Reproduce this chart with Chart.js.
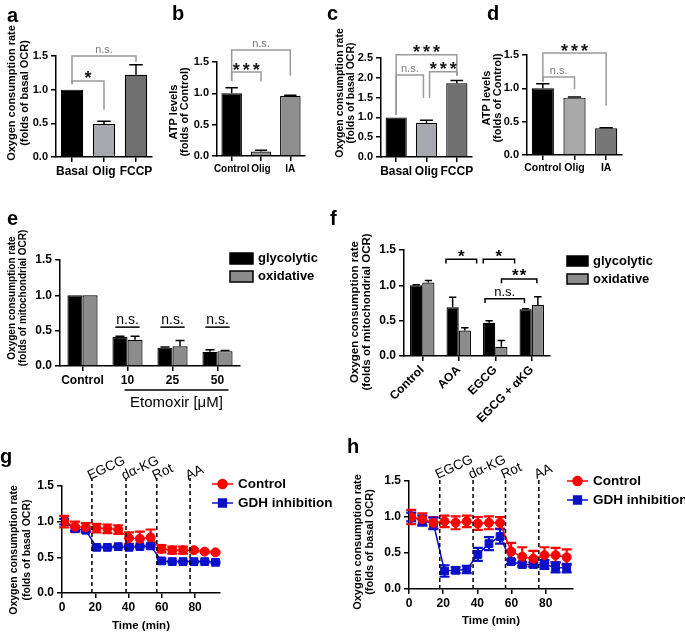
<!DOCTYPE html>
<html>
<head>
<meta charset="utf-8">
<script src="https://cdn.jsdelivr.net/npm/chart.js@4.4.0/dist/chart.umd.min.js"></script>
<style>
  body { margin: 0; background: #fff; width: 685px; height: 633px; overflow: hidden; position: relative; }
  canvas { position: absolute; }
</style>
</head>
<body>
<canvas id="ca" width="165" height="190" style="left:0;top:0"></canvas>
<canvas id="cb" width="165" height="190" style="left:165px;top:0"></canvas>
<canvas id="cc" width="170" height="190" style="left:325px;top:0"></canvas>
<canvas id="cd" width="205" height="190" style="left:480px;top:0"></canvas>
<canvas id="ce" width="335" height="210" style="left:0;top:200px"></canvas>
<canvas id="cf" width="360" height="230" style="left:325px;top:200px"></canvas>
<canvas id="cg" width="340" height="203" style="left:0;top:430px"></canvas>
<canvas id="ch" width="345" height="203" style="left:340px;top:430px"></canvas>
<script>
// ---- data ----
const aLabels = ["Basal", "Olig", "FCCP"];
const aValues = [1.0, 0.49, 1.22];
const aErrors = [0, 0.04, 0.15];

const bLabels = ["Control", "Olig", "IA"];
const bValues = [1.0, 0.07, 0.96];
const bErrors = [0.09, 0.02, 0.01];

const cLabels = ["Basal", "Olig", "FCCP"];
const cValues = [1.0, 0.86, 1.86];
const cErrors = [0, 0.07, 0.07];

const dLabels = ["Control", "Olig", "IA"];
const dValues = [1.0, 0.86, 0.40];
const dErrors = [0.07, 0.01, 0.01];

const eLabels = ["Control", "10", "25", "50"];
const eGlycolytic = [1.0, 0.41, 0.26, 0.20];
const eGlycolyticErr = [0, 0.01, 0.01, 0.03];
const eOxidative = [1.0, 0.37, 0.28, 0.21];
const eOxidativeErr = [0, 0.05, 0.08, 0.01];

const fLabels = ["Control", "AOA", "EGCG", "EGCG + αKG"];
const fGlycolytic = [1.0, 0.69, 0.47, 0.66];
const fGlycolyticErr = [0.01, 0.14, 0.03, 0.01];
const fOxidative = [1.04, 0.36, 0.13, 0.72];
const fOxidativeErr = [0.03, 0.04, 0.09, 0.12];

const timePoints = [1.3, 7.8, 14.3, 20.8, 27.3, 33.8, 40.3, 46.8, 53.3, 59.8, 66.3, 72.8, 79.3, 85.8, 92.3];
const injectionLabels = ["EGCG", "dα-KG", "Rot", "AA"];

const gControl = [1.00, 0.93, 0.92, 0.91, 0.90, 0.89, 0.77, 0.76, 0.78, 0.62, 0.60, 0.60, 0.60, 0.58, 0.57];
const gControlErr = [0.08, 0.07, 0.06, 0.06, 0.06, 0.06, 0.08, 0.10, 0.11, 0.05, 0.05, 0.05, 0.02, 0.01, 0.01];
const gGdh = [1.00, 0.90, 0.88, 0.64, 0.64, 0.65, 0.64, 0.65, 0.66, 0.45, 0.44, 0.44, 0.44, 0.44, 0.43];
const gGdhErr = [0.04, 0.03, 0.02, 0.02, 0.01, 0.01, 0.02, 0.01, 0.02, 0.03, 0.01, 0.01, 0.01, 0.01, 0.01];
const gInjections = [18, 38.5, 57, 77];

const hControl = [1.00, 0.97, 0.92, 0.94, 0.92, 0.94, 0.91, 0.92, 0.92, 0.52, 0.45, 0.42, 0.47, 0.47, 0.44];
const hControlErr = [0.10, 0.08, 0.08, 0.08, 0.09, 0.08, 0.09, 0.09, 0.08, 0.12, 0.13, 0.11, 0.11, 0.10, 0.11];
const hGdh = [1.00, 0.95, 0.91, 0.25, 0.26, 0.27, 0.48, 0.63, 0.73, 0.38, 0.34, 0.34, 0.34, 0.30, 0.29];
const hGdhErr = [0.06, 0.07, 0.08, 0.08, 0.04, 0.05, 0.09, 0.09, 0.10, 0.03, 0.03, 0.03, 0.06, 0.07, 0.06];
const hInjections = [18, 37.5, 56.5, 76];

const FONT = '"Liberation Sans", Arial, sans-serif';
Chart.defaults.font.family = FONT;
Chart.defaults.color = "#000";
Chart.defaults.animation = false;
Chart.defaults.responsive = false;
Chart.defaults.plugins.legend.display = false;
Chart.defaults.plugins.tooltip.enabled = false;

// error bars: bars get an upward whisker, line points get both
function drawErrors(chart) {
  const ctx = chart.ctx;
  const ys = chart.scales.y;
  chart.data.datasets.forEach((ds, di) => {
    if (!ds.errors) return;
    const meta = chart.getDatasetMeta(di);
    const isBar = meta.type === "bar";
    ctx.save();
    ctx.strokeStyle = isBar ? "#000" : ds.borderColor;
    ctx.lineWidth = isBar ? 1.5 : 2.2;
    meta.data.forEach((el, i) => {
      const err = ds.errors[i];
      if (!err) return;
      const v = isBar ? ds.data[i] : ds.data[i].y;
      const top = ys.getPixelForValue(v + err);
      const bottom = isBar ? el.y : ys.getPixelForValue(v - err);
      const half = isBar ? el.width * 0.3 : 5;
      ctx.beginPath();
      ctx.moveTo(el.x, bottom);
      ctx.lineTo(el.x, top);
      ctx.moveTo(el.x - half, top);
      ctx.lineTo(el.x + half, top);
      if (!isBar) {
        ctx.moveTo(el.x - half, bottom);
        ctx.lineTo(el.x + half, bottom);
      }
      ctx.stroke();
    });
    ctx.restore();
  });
}

const errorBars = {
  id: "errorBars",
  beforeDatasetsDraw(chart) { if (chart.config.type !== "bar") drawErrors(chart); },
  afterDatasetsDraw(chart) { if (chart.config.type === "bar") drawErrors(chart); },
};

function drawCentered(ctx, text, x, y, spacing) {
  ctx.letterSpacing = (spacing || 0) + "px";
  const m = ctx.measureText(text);
  const base = y - (m.actualBoundingBoxDescent - m.actualBoundingBoxAscent) / 2;
  ctx.fillText(text, x + (spacing || 0) / 2, base);
  ctx.letterSpacing = "0px";
}

// significance brackets, given in category / value units
const brackets = {
  id: "brackets",
  afterDraw(chart, args, opts) {
    if (!opts.items) return;
    const ctx = chart.ctx;
    const xs = chart.scales.x, ys = chart.scales.y;
    const p0 = xs.getPixelForValue(0), p1 = xs.getPixelForValue(1);
    const px = (v) => p0 + v * (p1 - p0);
    ctx.save();
    opts.items.forEach((b) => {
      const x0 = px(b.from), x1 = px(b.to), y = ys.getPixelForValue(b.y);
      ctx.strokeStyle = opts.lineColor;
      ctx.lineWidth = 1.5;
      ctx.beginPath();
      ctx.moveTo(x0, ys.getPixelForValue(b.legL));
      ctx.lineTo(x0, y);
      ctx.lineTo(x1, y);
      ctx.lineTo(x1, ys.getPixelForValue(b.legR));
      ctx.stroke();
      const mid = (x0 + x1) / 2;
      ctx.textAlign = "center";
      if (b.text === "n.s.") {
        ctx.font = opts.nsFont;
        ctx.fillStyle = opts.nsColor;
        ctx.textBaseline = "alphabetic";
        ctx.fillText(b.text, mid, y - 3);
      } else {
        ctx.font = opts.starFont;
        ctx.fillStyle = opts.starColor;
        ctx.textBaseline = "alphabetic";
        drawCentered(ctx, b.text, mid, y - 6, opts.starSpacing);
      }
    });
    ctx.restore();
  },
};

// panel letter, y title, legends, injection markers, group label
const decor = {
  id: "decor",
  afterDraw(chart, args, o) {
    const ctx = chart.ctx;
    const area = chart.chartArea;
    ctx.save();
    ctx.fillStyle = "#000";
    if (o.letter) {
      ctx.font = "bold 20px " + FONT;
      ctx.textAlign = "left";
      ctx.textBaseline = "alphabetic";
      ctx.fillText(o.letter[0], o.letter[1], o.letter[2]);
    }
    if (o.yTitle) {
      const t = o.yTitle;
      ctx.font = "bold " + t.size + "px " + FONT;
      ctx.textAlign = "center";
      ctx.textBaseline = "middle";
      t.lines.forEach((line, i) => {
        ctx.save();
        ctx.translate(t.x[i], t.y);
        ctx.rotate(-Math.PI / 2);
        ctx.fillText(line, 0, 0);
        ctx.restore();
      });
    }
    if (o.boxLegend) {
      const L = o.boxLegend;
      ctx.font = "bold 13px " + FONT;
      ctx.textAlign = "left";
      ctx.textBaseline = "middle";
      chart.data.datasets.forEach((ds, i) => {
        const y = L.y + i * L.dy;
        ctx.fillStyle = ds.backgroundColor;
        ctx.fillRect(L.x, y - L.h / 2, L.w, L.h);
        ctx.strokeStyle = "#000";
        ctx.lineWidth = 1.5;
        ctx.strokeRect(L.x, y - L.h / 2, L.w, L.h);
        ctx.fillStyle = "#000";
        ctx.fillText(ds.label, L.x + L.w + 5, y);
      });
    }
    if (o.lineLegend) {
      const L = o.lineLegend;
      ctx.font = "bold 13.5px " + FONT;
      ctx.textAlign = "left";
      ctx.textBaseline = "middle";
      chart.data.datasets.forEach((ds, i) => {
        const y = L.y + i * L.dy;
        ctx.strokeStyle = ds.borderColor;
        ctx.lineWidth = 1.5;
        ctx.beginPath();
        ctx.moveTo(L.x, y);
        ctx.lineTo(L.x + 21, y);
        ctx.stroke();
        Chart.helpers.drawPoint(ctx, {
          pointStyle: ds.pointStyle, radius: ds.pointRadius, borderWidth: 1,
        }, L.x + 10.5, y);
        ctx.fillStyle = ds.backgroundColor;
        ctx.fill();
        ctx.fillStyle = "#000";
        ctx.fillText(ds.label, L.x + 26, y);
      });
    }
    if (o.injections) {
      const J = o.injections;
      const xs = chart.scales.x;
      J.times.forEach((t, i) => {
        const x = xs.getPixelForValue(t);
        const top = area.top - J.lift;
        ctx.strokeStyle = "#000";
        ctx.lineWidth = 1.5;
        ctx.setLineDash([4, 3]);
        ctx.beginPath();
        ctx.moveTo(x, area.bottom);
        ctx.lineTo(x, top);
        ctx.stroke();
        ctx.setLineDash([]);
        ctx.save();
        ctx.translate(x - 2, top + 2);
        ctx.rotate(-25 * Math.PI / 180);
        ctx.font = "13.5px " + FONT;
        ctx.textAlign = "left";
        ctx.textBaseline = "alphabetic";
        ctx.fillStyle = "#000";
        ctx.fillText(J.labels[i], 0, 0);
        ctx.restore();
      });
    }
    if (o.groupLabel) {
      const G = o.groupLabel;
      const xs = chart.scales.x;
      const x0 = xs.getPixelForValue(G.from) - 3;
      const x1 = xs.getPixelForValue(G.to) + 11;
      const y = area.bottom + G.dy;
      ctx.strokeStyle = "#000";
      ctx.lineWidth = 1.5;
      ctx.beginPath();
      ctx.moveTo(x0, y);
      ctx.lineTo(x1, y);
      ctx.stroke();
      ctx.font = "15px " + FONT;
      ctx.textAlign = "center";
      ctx.textBaseline = "middle";
      ctx.fillText(G.text, (x0 + x1) / 2, y + 13);
    }
    ctx.restore();
  },
};

Chart.register(errorBars, brackets, decor);

function valueAxis(max, width, size) {
  return {
    min: 0,
    max: max,
    ticks: { stepSize: 0.5, padding: 3, font: { size: size || 12, weight: "bold" }, callback: (v) => v.toFixed(1) },
    grid: { drawOnChartArea: false, tickLength: 5, color: "#000", lineWidth: 1.5 },
    border: { color: "#000", width: 1.5 },
    afterFit: (s) => { s.width = width; },
  };
}

function categoryAxis(height, rotation, size) {
  return {
    ticks: {
      padding: 2, autoSkip: false,
      minRotation: rotation || 0, maxRotation: rotation || 0,
      font: { size: size || 12, weight: "bold" },
    },
    grid: { drawOnChartArea: false, offset: false, tickLength: 5, color: "#000", lineWidth: 1.5 },
    border: { color: "#000", width: 1.5 },
    afterFit: (s) => { s.height = height; },
  };
}

function timeAxis(max, height, titleGap) {
  return {
    type: "linear",
    min: 0,
    max: max,
    ticks: { stepSize: 20, includeBounds: false, padding: 2, font: { size: 12, weight: "bold" } },
    grid: { drawOnChartArea: false, tickLength: 5, color: "#000", lineWidth: 1.5 },
    border: { color: "#000", width: 1.5 },
    title: { display: true, text: "Time (min)", font: { size: 11.5, weight: "bold" }, padding: { top: 0, bottom: titleGap } },
    afterFit: (s) => { s.height = height; },
  };
}

const grayBrackets = {
  lineColor: "#9a9a9a", nsColor: "#7a7a7a", nsFont: "11px " + FONT,
  starColor: "#1a1a1a", starFont: "bold 18px " + FONT, starSpacing: 3,
};

function singleBar(id, labels, values, errors, colors, frame, extra) {
  return new Chart(document.getElementById(id), {
    type: "bar",
    data: {
      labels: labels,
      datasets: [{
        data: values, errors: errors,
        backgroundColor: colors, borderColor: "#000", borderWidth: 1.2,
        categoryPercentage: 1, barPercentage: 0.7,
      }],
    },
    options: {
      layout: { padding: { left: 0, top: frame.top, right: frame.right, bottom: 0 } },
      scales: { x: categoryAxis(frame.xh, 0, frame.catSize), y: valueAxis(frame.max, frame.yw, 11) },
      plugins: Object.assign({ brackets: grayBrackets }, extra),
    },
  });
}

// ---- a ----
singleBar("ca", aLabels, aValues, aErrors, ["#000", "#a7a7b0", "#6f6f6f"],
  { top: 56, right: 13, xh: 33, yw: 56, max: 1.5, catSize: 12 },
  {
    brackets: Object.assign({}, grayBrackets, { items: [
      { from: 0, to: 2, y: 1.5, legL: 1.08, legR: 1.41, text: "n.s." },
      { from: 0, to: 1, y: 1.13, legL: 1.08, legR: 0.70, text: "*" },
    ] }),
    decor: {
      letter: ["a", 7, 22],
      yTitle: { lines: ["Oxygen consumption rate", "(folds of basal OCR)"], x: [12, 25], y: 93, size: 11 },
    },
  });

// ---- b ----
singleBar("cb", bLabels, bValues, bErrors, ["#000", "#8e8e8e", "#8e8e8e"],
  { top: 62, right: 25, xh: 34, yw: 52, max: 1.5, catSize: 10 },
  {
    brackets: Object.assign({}, grayBrackets, { items: [
      { from: 0, to: 2, y: 1.69, legL: 1.2, legR: 1.28, text: "n.s." },
      { from: 0, to: 1, y: 1.34, legL: 1.2, legR: 1.19, text: "***" },
    ] }),
    decor: {
      letter: ["b", 7, 20],
      yTitle: { lines: ["ATP levels", "(folds of Control)"], x: [9, 20], y: 112, size: 11 },
    },
  });

// ---- c ----
singleBar("cc", cLabels, cValues, cErrors, ["#000", "#a7a7b0", "#707070"],
  { top: 58, right: 23, xh: 33, yw: 56, max: 2.5, catSize: 12 },
  {
    brackets: Object.assign({}, grayBrackets, { items: [
      { from: 0, to: 2, y: 2.58, legL: 1.06, legR: 2.05, text: "***" },
      { from: 0, to: 0.9, y: 2.07, legL: 1.06, legR: 1.49, text: "n.s." },
      { from: 1.1, to: 2, y: 2.15, legL: 1.49, legR: 2.05, text: "***" },
    ] }),
    decor: {
      letter: ["c", 2, 20],
      yTitle: { lines: ["Oxygen consumption rate", "(folds of basal OCR)"], x: [15, 26], y: 93, size: 10.5 },
    },
  });

// ---- d ----
singleBar("cd", dLabels, dValues, dErrors, ["#000", "#a8a8a8", "#777777"],
  { top: 55, right: 63, xh: 35, yw: 47, max: 1.5, catSize: 10.5 },
  {
    brackets: Object.assign({}, grayBrackets, { items: [
      { from: 0, to: 2, y: 1.53, legL: 1.1, legR: 0.74, text: "***" },
      { from: 0, to: 1, y: 1.17, legL: 1.1, legR: 0.99, text: "n.s." },
    ] }),
    decor: {
      letter: ["d", 7, 20],
      yTitle: { lines: ["ATP levels", "(folds of Control)"], x: [7, 18], y: 98, size: 11 },
    },
  });

// ---- e ----
new Chart(document.getElementById("ce"), {
  type: "bar",
  data: {
    labels: eLabels,
    datasets: [
      { label: "glycolytic", data: eGlycolytic, errors: eGlycolyticErr, backgroundColor: "#000", borderColor: "#000", borderWidth: 1.2, categoryPercentage: 0.67, barPercentage: 1 },
      { label: "oxidative", data: eOxidative, errors: eOxidativeErr, backgroundColor: "#8c8c8c", borderColor: "#000", borderWidth: 1.2, categoryPercentage: 0.67, barPercentage: 1 },
    ],
  },
  options: {
    layout: { padding: { left: 0, top: 60, right: 95, bottom: 0 } },
    scales: { x: categoryAxis(44), y: valueAxis(1.5, 60) },
    plugins: {
      brackets: {
        lineColor: "#000", nsColor: "#000", nsFont: "14px " + FONT,
        items: [1, 2, 3].map((i) => ({ from: i - 0.27, to: i + 0.27, y: 0.55, legL: 0.55, legR: 0.55, text: "n.s." })),
      },
      decor: {
        letter: ["e", 7, 25],
        yTitle: { lines: ["Oxygen consumption rate", "(folds of mitochondrial OCR)"], x: [12.5, 23.5], y: 98, size: 10 },
        boxLegend: { x: 230, y: 58.5, dy: 18, w: 23, h: 11 },
        groupLabel: { text: "Etomoxir [μM]", from: 1, to: 3, dy: 24 },
      },
    },
  },
});

// ---- f ----
new Chart(document.getElementById("cf"), {
  type: "bar",
  data: {
    labels: fLabels,
    datasets: [
      { label: "glycolytic", data: fGlycolytic, errors: fGlycolyticErr, backgroundColor: "#000", borderColor: "#000", borderWidth: 1.2, categoryPercentage: 0.67, barPercentage: 1 },
      { label: "oxidative", data: fOxidative, errors: fOxidativeErr, backgroundColor: "#8c8c8c", borderColor: "#000", borderWidth: 1.2, categoryPercentage: 0.67, barPercentage: 1 },
    ],
  },
  options: {
    layout: { padding: { left: 0, top: 50, right: 135, bottom: 0 } },
    scales: { x: categoryAxis(74, 45), y: valueAxis(1.5, 79) },
    plugins: {
      brackets: {
        lineColor: "#000", nsColor: "#000", nsFont: "13px " + FONT,
        starColor: "#000", starFont: "bold 17px " + FONT, starSpacing: 1,
        items: [
          { from: 0.65, to: 1.49, y: 1.37, legL: 1.31, legR: 1.31, text: "*" },
          { from: 1.67, to: 2.53, y: 1.37, legL: 1.31, legR: 1.31, text: "*" },
          { from: 2.17, to: 3.14, y: 1.09, legL: 1.03, legR: 1.03, text: "**" },
          { from: 1.72, to: 2.8, y: 0.81, legL: 0.75, legR: 0.75, text: "n.s." },
        ],
      },
      decor: {
        letter: ["f", 5, 25],
        yTitle: { lines: ["Oxygen consumption rate", "(folds of mitochondrial OCR)"], x: [30, 42], y: 112, size: 11.5 },
        boxLegend: { x: 242, y: 61, dy: 18, w: 21, h: 10 },
      },
    },
  },
});

// ---- g / h ----
function seahorse(id, control, controlErr, gdh, gdhErr, injections, frame, decor) {
  const pts = (vals) => timePoints.map((t, i) => ({ x: t, y: vals[i] }));
  return new Chart(document.getElementById(id), {
    type: "scatter",
    data: {
      datasets: [
        { label: "Control", data: pts(control), errors: controlErr, showLine: true,
          borderColor: "#ff0000", backgroundColor: "#ff0000", borderWidth: 1.5,
          pointStyle: "circle", pointRadius: 4.5, pointBorderWidth: 1 },
        { label: "GDH inhibition", data: pts(gdh), errors: gdhErr, showLine: true,
          borderColor: "#0a10c8", backgroundColor: "#0a10c8", borderWidth: 1.5,
          pointStyle: "rect", pointRadius: 5.5, pointBorderWidth: 1 },
      ],
    },
    options: {
      layout: { padding: { left: 0, top: frame.top, right: frame.right, bottom: 0 } },
      scales: { x: timeAxis(frame.max, frame.xh, frame.titleGap), y: valueAxis(1.5, frame.yw) },
      plugins: {
        decor: Object.assign({ injections: { times: injections, labels: injectionLabels, lift: frame.lift } }, decor),
      },
    },
  });
}

seahorse("cg", gControl, gControlErr, gGdh, gGdhErr, gInjections,
  { top: 56, right: 120, xh: 40, yw: 62, max: 95, titleGap: 0, lift: 8 },
  {
    letter: ["g", 0, 33],
    yTitle: { lines: ["Oxygen consumption rate", "(folds of basal OCR)"], x: [14.5, 27], y: 120, size: 10.5 },
    lineLegend: { x: 212, y: 54, dy: 19 },
  });

seahorse("ch", hControl, hControlErr, hGdh, hGdhErr, hInjections,
  { top: 51, right: 112, xh: 44, yw: 69, max: 96, titleGap: 5, lift: 4 },
  {
    letter: ["h", 7, 23],
    yTitle: { lines: ["Oxygen consumption rate", "(folds of basal OCR)"], x: [18, 30], y: 112, size: 11 },
    lineLegend: { x: 227, y: 51, dy: 19 },
  });
</script>
</body>
</html>
